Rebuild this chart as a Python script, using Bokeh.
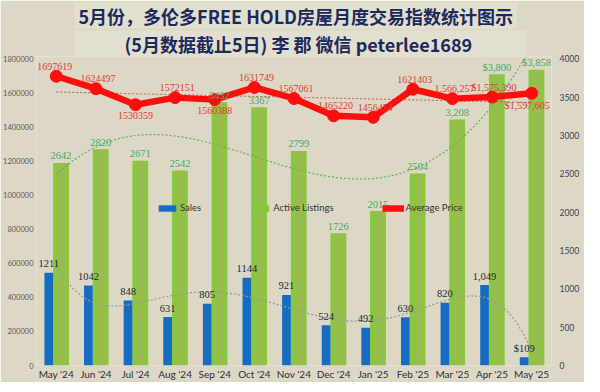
import numpy as np
from bokeh.plotting import figure
from bokeh.models import (Range1d, LinearAxis, FixedTicker, BasicTickFormatter,
                          ColumnDataSource, LabelSet, Legend, LegendItem, Title)
from bokeh.transform import dodge
from bokeh.embed import file_html
from bokeh.resources import INLINE

# ---------------- data ----------------
months = ["May '24", "Jun '24", "Jul '24", "Aug '24", "Sep '24", "Oct '24", "Nov '24",
          "Dec '24", "Jan '25", "Feb '25", "Mar '25", "Apr '25", "May '25"]
sales = [1211, 1042, 848, 631, 805, 1144, 921, 524, 492, 630, 820, 1049, 109]
listings = [2642, 2820, 2671, 2542, 3432, 3367, 2799, 1726, 2015, 2504, 3208, 3800, 3858]
avg_price = [1697619, 1624497, 1530359, 1572151, 1560388, 1631749, 1567061,
             1465220, 1456454, 1621403, 1566257, 1575390, 1597605]
sales_labels = ["1211", "1042", "848", "631", "805", "1144", "921", "524", "492",
                "630", "820", "1,049", "$109"]
listing_labels = ["2642", "2820", "2671", "2542", "3432", "3367", "2799", "1726",
                  "2015", "2504", "3,208", "$3,800", "$3,858"]
price_labels = ["1697619", "1624497", "1530359", "1572151", "1560388", "1631749",
                "1567061", "1465220", "1456454", "1621403", "1,566,257",
                "$1,575,390", "$1,597,605"]
price_ticks = list(range(0, 1800001, 200000))
count_ticks = list(range(0, 4001, 500))

title_line1 = "5月份，多伦多FREE HOLD房屋月度交易指数统计图示"
title_line2 = "(5月数据截止5日) 李 郡  微信 peterlee1689"

# label placement (style, not data)
price_label_side = ["first", "above", "below", "above", "below", "above", "above",
                    "above", "above", "above", "above", "above", "last"]

BG = "#DDD8C5"
FONT = "Lato"
idx = list(range(len(months)))

p = figure(width=584, height=376, frame_height=309, output_backend="svg",
           toolbar_location=None,
           x_range=Range1d(-0.5, len(months) - 0.5), y_range=Range1d(0, 1813500),
           background_fill_color=BG, border_fill_color=BG, outline_line_color=None,
           min_border_left=29, min_border_right=33, min_border_bottom=0, min_border_top=0,
           x_axis_label=None, y_axis_label=None)
p.extra_y_ranges = {"count": Range1d(0, 4030)}
p.xgrid.visible = False
p.ygrid.visible = False
p.title.visible = False

# title: two centred lines on one light panel
TBOX = "#E3DFCF"
t2 = Title(text=title_line2, align="left", text_font="Noto Sans CJK SC",
           text_font_style="bold", text_font_size="18px", text_color="#1B2A5E",
           background_fill_color=TBOX, border_line_color=None,
           padding=(50, 0), standoff=0, offset=38)
t1 = Title(text=title_line1, align="left", text_font="Noto Sans CJK SC",
           text_font_style="bold", text_font_size="18px", text_color="#1B2A5E",
           background_fill_color=TBOX, border_line_color=None,
           padding=(4, 0), standoff=0, offset=38)
p.add_layout(t2, "above")
p.add_layout(t1, "above")

src = ColumnDataSource(dict(x=idx, month=months, sales=sales, listings=listings,
                            price=avg_price, slab=sales_labels, llab=listing_labels))

# bars
r_list = p.vbar(x=dodge("x", 0.12), top="listings", width=0.40, source=src,
                y_range_name="count", fill_color="#8CC63F", line_color=None)
p.vbar(x=dodge("x", 0.14), top="listings", width=0.18, source=src,
       y_range_name="count", fill_color="#A3B65C", fill_alpha=0.55, line_color=None)
r_sales = p.vbar(x=dodge("x", -0.19), top="sales", width=0.22, source=src,
                 y_range_name="count", fill_color="#156CC0", line_color=None)

# trendlines (fits of the data series)
xs = np.linspace(0, len(months) - 1, 241)
sales_fit = np.polyval(np.polyfit(idx, sales, 5), xs)
list_fit = np.polyval(np.polyfit(idx, listings, 4), xs)
price_fit = np.polyval(np.polyfit(idx, avg_price, 1), xs)
p.line(xs, sales_fit, y_range_name="count", line_color="#9A9A9A", line_width=1.3,
       line_dash="2 2")
p.line(xs, list_fit, y_range_name="count", line_color="#5DB35D", line_width=1.2,
       line_dash="2 2")
p.line(xs, price_fit, line_color="#C0504D", line_width=1.0, line_dash="2 2")

# price line
r_pl = p.line(x="x", y="price", source=src, line_color="#FF0D0D", line_width=6.5)
r_pm = p.scatter(x="x", y="price", source=src, size=12, fill_color="#FF0D0D",
                 line_color="#FF0D0D")

# labels
p.add_layout(LabelSet(x=dodge("x", -0.19), y="sales", text="slab", source=src,
                      y_range_name="count", text_align="center", text_baseline="middle",
                      y_offset=9, text_font=FONT, text_font_size="10.5px",
                      text_color="#232838"))
p.add_layout(LabelSet(x=dodge("x", 0.12), y="listings", text="llab", source=src,
                      y_range_name="count", text_align="center", text_baseline="middle",
                      y_offset=7, text_font=FONT, text_font_size="10.5px",
                      text_color="#3DAA68"))

side_style = {
    "above": dict(text_align="center", text_baseline="middle", x_offset=2, y_offset=10),
    "below": dict(text_align="center", text_baseline="middle", x_offset=0, y_offset=-11),
    "first": dict(text_align="left", text_baseline="middle", x_offset=-19, y_offset=10),
    "last": dict(text_align="right", text_baseline="middle", x_offset=18, y_offset=-12),
}
for side, st in side_style.items():
    sel = [i for i in idx if price_label_side[i] == side]
    s = ColumnDataSource(dict(x=[idx[i] for i in sel], y=[avg_price[i] for i in sel],
                              t=[price_labels[i] for i in sel]))
    p.add_layout(LabelSet(x="x", y="y", text="t", source=s, text_font=FONT,
                          text_font_size="10px", text_color="#E03A34", **st))

# axes
lax = p.yaxis[0]
lax.ticker = FixedTicker(ticks=price_ticks)
lax.formatter = BasicTickFormatter(use_scientific=False)
lax.major_label_text_font = FONT
lax.major_label_text_font_size = "7.5px"
lax.major_label_text_color = "#5A5A5A"

rax = LinearAxis(y_range_name="count", ticker=FixedTicker(ticks=count_ticks),
                 formatter=BasicTickFormatter(use_scientific=False))
rax.major_label_text_font = FONT
rax.major_label_text_font_size = "8.5px"
rax.major_label_text_color = "#3A3F58"
p.add_layout(rax, "right")

xax = p.xaxis[0]
xax.ticker = FixedTicker(ticks=idx)
xax.major_label_overrides = {i: m for i, m in enumerate(months)}
xax.major_label_text_font = FONT
xax.major_label_text_font_size = "10px"
xax.major_label_text_color = "#2E2E3A"

for ax, so in ((lax, 3), (rax, 8), (xax, 2)):
    ax.axis_label = None
    ax.axis_label_standoff = 0
    ax.axis_line_color = None
    ax.major_tick_line_color = None
    ax.minor_tick_line_color = None
    ax.major_tick_out = 0
    ax.major_tick_in = 0
    ax.minor_tick_out = 0
    ax.minor_tick_in = 0
    ax.major_label_standoff = so

# legend
legend = Legend(items=[LegendItem(label="Sales", renderers=[r_sales]),
                       LegendItem(label="Active Listings", renderers=[r_list]),
                       LegendItem(label="Average Price", renderers=[r_pl, r_pm])],
                orientation="horizontal", location=(120, 152),
                background_fill_alpha=0, border_line_color=None,
                label_text_font=FONT, label_text_font_size="9.5px",
                label_text_color="#333333", glyph_width=22, glyph_height=8,
                spacing=48, padding=0, margin=0, label_standoff=2,
                label_height=10)
p.add_layout(legend, "center")

open("out.html", "w").write(file_html(p, INLINE))
